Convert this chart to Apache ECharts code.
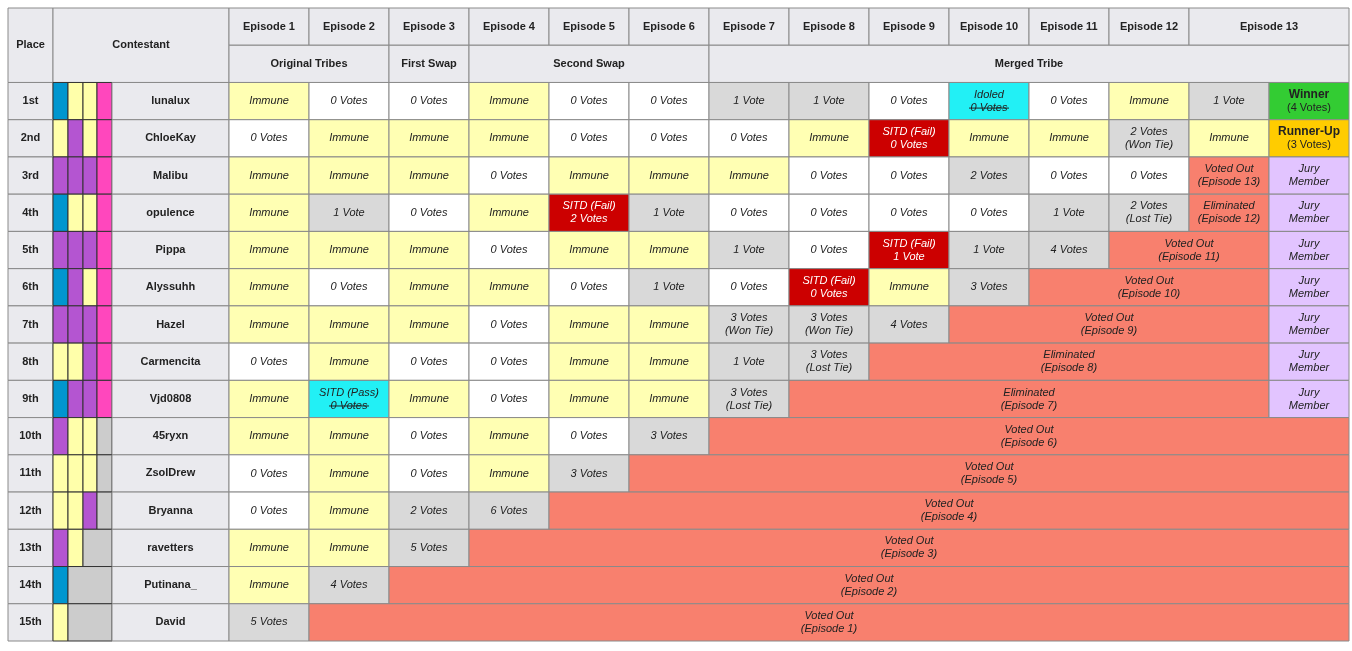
<!DOCTYPE html>
<meta charset="utf-8">
<style>
html, body { margin: 0; background: #fff; }
#main { width: 1352px; height: 651px; }
</style>
<div id="main"></div>
<script src="https://cdn.jsdelivr.net/npm/echarts@6/dist/echarts.min.js"></script>
<script>

// ---- data ----
var places = ['1st','2nd','3rd','4th','5th','6th','7th','8th','9th','10th','11th','12th','13th','14th','15th'];
var contestants = ['lunalux','ChloeKay','Malibu','opulence','Pippa','Alyssuhh','Hazel','Carmencita',
    'Vjd0808','45ryxn','ZsolDrew','Bryanna','ravetters','Putinana_','David'];
var episodes = ['Episode 1','Episode 2','Episode 3','Episode 4','Episode 5','Episode 6','Episode 7',
    'Episode 8','Episode 9','Episode 10','Episode 11','Episode 12','Episode 13'];
var phases = [['Original Tribes', 2], ['First Swap', 1], ['Second Swap', 3], ['Merged Tribe', 8]];

// tribe strip per contestant: B blue, Y yellow, P purple, K pink, G gray (letters repeated = merged cell)
var tribes = ['BYYK','YPYK','PPPK','BYYK','PPPK','BPYK','PPPK','YYPK','BPPK',
    'PYYG','YYYG','YYPG','PYGG','BGGG','YGGG'];

// each cell: [text, kind, span]  kinds: I immune, W white, G gray, R sitd, C idol, O out, J jury, WIN, RU
var V0 = ['0 Votes','W'], IM = ['Immune','I'], V1 = ['1 Vote','G'], JU = ['Jury\nMember','J'];
var results = [
    [IM, V0, V0, IM, V0, V0, V1, V1, V0, ['Idoled\n~0 Votes','C'], V0, IM, V1, ['Winner\n(4 Votes)','WIN']],
    [V0, IM, IM, IM, V0, V0, V0, IM, ['SITD (Fail)\n0 Votes','R'], IM, IM, ['2 Votes\n(Won Tie)','G'], IM, ['Runner-Up\n(3 Votes)','RU']],
    [IM, IM, IM, V0, IM, IM, IM, V0, V0, ['2 Votes','G'], V0, V0, ['Voted Out\n(Episode 13)','O'], JU],
    [IM, V1, V0, IM, ['SITD (Fail)\n2 Votes','R'], V1, V0, V0, V0, V0, V1, ['2 Votes\n(Lost Tie)','G'], ['Eliminated\n(Episode 12)','O'], JU],
    [IM, IM, IM, V0, IM, IM, V1, V0, ['SITD (Fail)\n1 Vote','R'], V1, ['4 Votes','G'], ['Voted Out\n(Episode 11)','O',2], JU],
    [IM, V0, IM, IM, V0, V1, V0, ['SITD (Fail)\n0 Votes','R'], IM, ['3 Votes','G'], ['Voted Out\n(Episode 10)','O',3], JU],
    [IM, IM, IM, V0, IM, IM, ['3 Votes\n(Won Tie)','G'], ['3 Votes\n(Won Tie)','G'], ['4 Votes','G'], ['Voted Out\n(Episode 9)','O',4], JU],
    [V0, IM, V0, V0, IM, IM, V1, ['3 Votes\n(Lost Tie)','G'], ['Eliminated\n(Episode 8)','O',5], JU],
    [IM, ['SITD (Pass)\n~0 Votes','C'], IM, V0, IM, IM, ['3 Votes\n(Lost Tie)','G'], ['Eliminated\n(Episode 7)','O',6], JU],
    [IM, IM, V0, IM, V0, ['3 Votes','G'], ['Voted Out\n(Episode 6)','O',8]],
    [V0, IM, V0, IM, ['3 Votes','G'], ['Voted Out\n(Episode 5)','O',9]],
    [V0, IM, ['2 Votes','G'], ['6 Votes','G'], ['Voted Out\n(Episode 4)','O',10]],
    [IM, IM, ['5 Votes','G'], ['Voted Out\n(Episode 3)','O',11]],
    [IM, ['4 Votes','G'], ['Voted Out\n(Episode 2)','O',12]],
    [['5 Votes','G'], ['Voted Out\n(Episode 1)','O',13]]
];

// ---- styling ----
var fills = { I: '#ffffb3', W: '#ffffff', G: '#d9d9d9', R: '#cc0000', C: '#22f0f5', O: '#f8806e',
    J: '#e2c4ff', WIN: '#33cc33', RU: '#ffcc00', H: '#eaeaee',
    B: '#0096cf', Y: '#ffffaa', P: '#b455d1', K: '#ff47bd' };
var tribeFill = { B: '#0096cf', Y: '#ffffaa', P: '#b455d1', K: '#ff47bd', G: '#cccccc' };

// column edges in table units (x)
var placeX = [0, 45], stripX = [45, 60, 75, 89, 104], nameX = [104, 221];
var epX0 = 221, epW = 80;

var cells = [];
function add(x0, x1, r0, r1, fill, text, font) {
    cells.push([x0, x1, r0, r1, fill, text, font]);
}

// header
add(placeX[0], placeX[1], 0, 2, fills.H, 'Place', 'hb');
add(stripX[0], nameX[1], 0, 2, fills.H, 'Contestant', 'hb');
episodes.forEach(function (e, i) {
    add(epX0 + i * epW, epX0 + (i + 1 + (i === 12 ? 1 : 0)) * epW, 0, 1, fills.H, e, 'hb');
});
var c = 0;
phases.forEach(function (p) {
    add(epX0 + c * epW, epX0 + (c + p[1]) * epW, 1, 2, fills.H, p[0], 'hb');
    c += p[1];
});

// body
places.forEach(function (pl, r) {
    var y = r + 2;
    add(placeX[0], placeX[1], y, y + 1, fills.H, pl, 'hb');
    var t = tribes[r], k = 0;
    while (k < 4) {
        var j = k;
        while (j + 1 < 4 && t[j + 1] === t[k] && t[k] === 'G') j++;
        add(stripX[k], stripX[j + 1], y, y + 1, tribeFill[t[k]], '', 'n');
        k = j + 1;
    }
    add(nameX[0], nameX[1], y, y + 1, fills.H, contestants[r], 'hb');
    var col = 0;
    results[r].forEach(function (cell) {
        var span = cell[2] || 1;
        var font = cell[1] === 'R' ? 'iw' : (cell[1] === 'WIN' || cell[1] === 'RU') ? 'win' : 'i';
        add(epX0 + col * epW, epX0 + (col + span) * epW, y, y + 1, fills[cell[1]], cell[0], font);
        col += span;
    });
});

var chart = echarts.init(document.getElementById('main'));

chart.setOption({
    animation: false,
    grid: { left: 8, top: 8, width: 1341, height: 633 },
    xAxis: { type: 'value', min: 0, max: 1341, show: false },
    yAxis: { type: 'value', min: 0, max: 17, inverse: true, show: false },
    series: [{
        type: 'custom',
        data: cells,
        renderItem: function (params, api) {
            var d = cells[params.dataIndex];
            var p0 = api.coord([d[0], d[2]]), p1 = api.coord([d[1], d[3]]);
            var text = d[5], strike = text.indexOf('~') >= 0;
            text = text.replace('~', '');
            var cx = (p0[0] + p1[0]) / 2, cy = (p0[1] + p1[1]) / 2;
            var font = d[6];
            var style = {
                text: text, x: cx, y: cy, align: 'center', verticalAlign: 'middle',
                fontFamily: 'Liberation Sans, Arial', fontSize: 11, lineHeight: 13,
                fill: font === 'iw' ? '#ffffff' : '#222222',
                fontStyle: font === 'i' || font === 'iw' ? 'italic' : 'normal',
                fontWeight: font === 'hb' ? 'bold' : 'normal'
            };
            var children = [{
                type: 'rect',
                shape: { x: p0[0], y: p0[1], width: p1[0] - p0[0], height: p1[1] - p0[1] },
                style: { fill: d[4], stroke: font === 'n' ? '#333' : '#8a8a8a', lineWidth: 1 }
            }];
            if (font === 'win') {
                var lines = text.split('\n');
                children.push({ type: 'text', style: Object.assign({}, style, { text: lines[0], y: cy - 6.5, fontWeight: 'bold', fontSize: 12 }) });
                children.push({ type: 'text', style: Object.assign({}, style, { text: lines[1], y: cy + 6.5 }) });
            } else {
                children.push({ type: 'text', style: style });
            }
            if (strike) {
                children.push({ type: 'line', shape: { x1: cx - 20, y1: cy + 7, x2: cx + 20, y2: cy + 7 },
                    style: { stroke: '#222', lineWidth: 1 } });
            }
            return { type: 'group', children: children };
        }
    }]
});

</script>
